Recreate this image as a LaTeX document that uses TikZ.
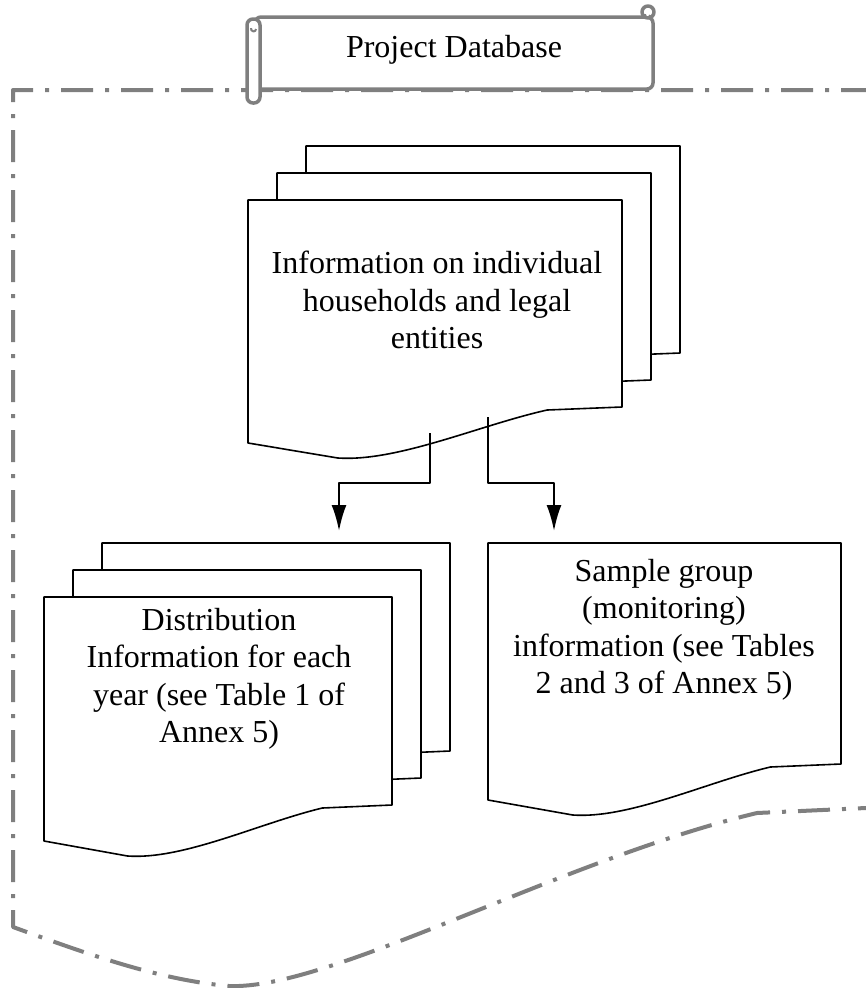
\documentclass[tikz,border=0pt]{standalone}
\usepackage{fontspec}
\setmainfont{Liberation Serif}
\usepackage{tikz}
\usetikzlibrary{arrows.meta}
\definecolor{framegray}{RGB}{127,127,127}
% one sheet: x, y, width, height
\newcommand{\docsheet}[4]{%
  \filldraw[sheetline] (#1,#2) -- ({#1+#3},#2) -- ({#1+#3},{#2+#4})
    -- ({#1+0.8*#3},{#2+#4+3}) .. controls ({#1+0.62*#3},{#2+#4+18}) and ({#1+0.4*#3},{#2+#4+55}) .. ({#1+0.24*#3},{#2+#4+51})
    -- (#1,{#2+#4+36}) -- cycle;}
% three sheets, back to front
\newcommand{\docstack}[4]{%
  \docsheet{#1+58}{#2-54}{#3}{#4}%
  \docsheet{#1+29}{#2-27}{#3}{#4}%
  \docsheet{#1}{#2}{#3}{#4}}

\begin{document}
\begin{tikzpicture}[x=1pt,y=-1pt,line join=round,node font=\fontsize{32}{37.5}\selectfont,
    frameline/.style={framegray,line width=4pt,dash pattern=on 32pt off 12pt on 4pt off 12pt,dash phase=7pt},
    scrollline/.style={framegray,line width=3.5pt,fill=white},
    sheetline/.style={black,line width=1.6pt,fill=white},
    flowarrow/.style={black,line width=2.2pt,-{Latex[length=26pt,width=15pt]}}]
  \useasboundingbox (0,0) rectangle (865,988);
  % khung ngoai
  \draw[frameline] (866,90) -- (13,90) -- (13,927)
    .. controls (90,955) and (160,980) .. (229,986)
    .. controls (330,990) and (560,860) .. (757,813) -- (866,808);
  % cuon giay
  \filldraw[scrollline,rounded corners=6pt] (255,17) -- (653,17) -- (653,89) -- (255,89) -- cycle;
  \filldraw[scrollline] (648,12) circle (6);
  \draw[framegray,line width=2pt] (650,15) arc (0:200:2.5);
  \filldraw[scrollline,rounded corners=6pt] (247,19) rectangle (260,103);
  \draw[framegray,line width=2pt] (256,29) arc (0:200:2.5);
  \node (title) at (454,50) {Project Database};
  % tai lieu
  \docstack{248}{200}{374}{207}
  \node[align=center] (households) at (437,300) {Information on individual\\households and legal\\entities};
  \docstack{44}{597}{348}{208}
  \node[align=center] (distribution) at (219,679) {Distribution\\Information for each\\year (see Table 1 of\\Annex 5)};
  \docsheet{488}{543}{353}{221}
  \node[align=center] (sample) at (664,630) {Sample group\\(monitoring)\\information (see Tables\\2 and 3 of Annex 5)};
  % mui ten
  \coordinate (outleft) at (430,433);
  \coordinate (outright) at (488,417);
  \coordinate (inleft) at (339,531);
  \coordinate (inright) at (554,531);
  \draw[flowarrow] (outleft) -- ++(0,50) -| (inleft);
  \draw[flowarrow] (outright) -- ++(0,66) -| (inright);
\end{tikzpicture}
\end{document}
